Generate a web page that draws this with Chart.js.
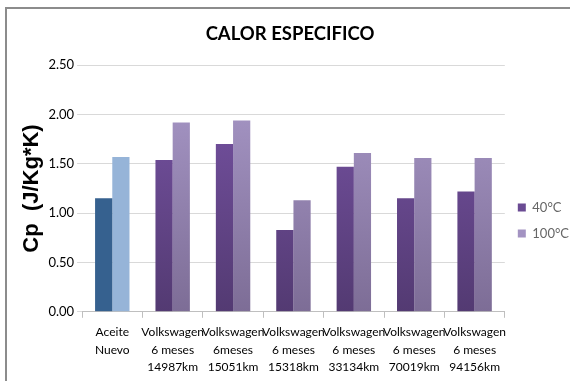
<!DOCTYPE html>
<html>
<head>
<meta charset="utf-8">
<script src="https://cdn.jsdelivr.net/npm/chart.js@4/dist/chart.umd.min.js"></script>
<style>
  html, body { margin: 0; padding: 0; background: #fff; }
  #wrap { position: relative; width: 570px; height: 381px; overflow: hidden; }
  #frame { position: absolute; left: 5px; top: 7px; width: 600px; height: 400px;
           border-left: 2px solid #8c8c8c; border-top: 2px solid #8c8c8c; }
  canvas { position: absolute; left: 0; top: 0; }
</style>
</head>
<body>
<div id="wrap">
  <div id="frame"></div>
  <canvas id="chart" width="570" height="381"></canvas>
</div>
<script>
const categories = [
    ['Aceite', 'Nuevo'],
    ['Volkswagen', '6 meses', '14987km'],
    ['Volkswagen', '6meses', '15051km'],
    ['Volkswagen', '6 meses', '15318km'],
    ['Volkswagen', '6 meses', '33134km'],
    ['Volkswagen', '6 meses', '70019km'],
    ['Volkswagen', '6 meses', '94156km']
];
const cp40 = [1.15, 1.54, 1.70, 0.83, 1.47, 1.15, 1.22];
const cp100 = [1.57, 1.92, 1.94, 1.13, 1.61, 1.56, 1.56];
const seriesNames = ['40°C', '100°C'];
const yTicks = [0, 0.5, 1.0, 1.5, 2.0, 2.5];

const FONT = 'Lato, "Liberation Sans", sans-serif';

// degradado vertical como en Excel
function grad(ctx, top, bottom) {
    const chart = ctx.chart;
    const area = chart.chartArea;
    if (!area) return top;
    const g = chart.ctx.createLinearGradient(0, area.top, 0, area.bottom);
    g.addColorStop(0, top);
    g.addColorStop(1, bottom);
    return g;
}

function color40(ctx) {
    if (ctx.type === 'data' && ctx.dataIndex === 0) return '#36618f';
    return grad(ctx, '#7a55a8', '#533a72');
}
function color100(ctx) {
    if (ctx.type === 'data' && ctx.dataIndex === 0) return '#96b4d8';
    return grad(ctx, '#ab9bcb', '#7d6d96');
}

new Chart(document.getElementById('chart'), {
    type: 'bar',
    data: {
        labels: categories,
        datasets: [
            { label: seriesNames[0], data: cp40, backgroundColor: color40, borderWidth: 0 },
            { label: seriesNames[1], data: cp100, backgroundColor: color100, borderWidth: 0 }
        ]
    },
    options: {
        responsive: false,
        animation: false,
        devicePixelRatio: 1,
        datasets: { bar: { barPercentage: 1.0, categoryPercentage: 0.57 } },
        layout: { padding: { left: 1, right: -9, top: 22, bottom: -1 } },
        plugins: {
            tooltip: { enabled: false },
            title: {
                display: true,
                text: 'CALOR ESPECIFICO',
                color: '#000',
                font: { family: FONT, size: 18.5, weight: 'bold' },
                padding: { top: 1, bottom: 20 }
            },
            legend: {
                position: 'right',
                title: { display: true, text: ' ', font: { size: 1 }, padding: { top: 36, bottom: 0 } },
                labels: {
                    color: '#000',
                    boxWidth: 8,
                    boxHeight: 8,
                    padding: 13,
                    font: { family: FONT, size: 13 },
                    generateLabels: chart => seriesNames.map((n, i) => ({
                        text: n,
                        fillStyle: i === 0 ? '#6a4b93' : '#a393c2',
                        strokeStyle: i === 0 ? '#6a4b93' : '#a393c2',
                        lineWidth: 0,
                        datasetIndex: i
                    }))
                }
            }
        },
        scales: {
            x: {
                grid: { display: true, offset: true, drawOnChartArea: false, tickLength: 6, color: '#bfbfbf' },
                border: { color: '#bfbfbf' },
                ticks: {
                    color: '#000',
                    maxRotation: 0,
                    autoSkip: false,
                    padding: 6,
                    font: { family: FONT, size: 12, lineHeight: 1.45 }
                }
            },
            y: {
                min: 0,
                max: 2.5,
                afterBuildTicks: axis => { axis.ticks = yTicks.map(v => ({ value: v })); },
                grid: { color: '#d9d9d9', tickLength: 5 },
                border: { display: false },
                ticks: {
                    color: '#000',
                    padding: 3,
                    font: { family: FONT, size: 13 },
                    callback: v => Number(v).toFixed(2)
                },
                title: {
                    display: true,
                    text: 'Cp  (J/Kg*K)',
                    color: '#000',
                    font: { family: '"Liberation Sans", sans-serif', size: 22, weight: 'bold' },
                    padding: { top: 18, bottom: 0 }
                }
            }
        }
    }
});
</script>
</body>
</html>
